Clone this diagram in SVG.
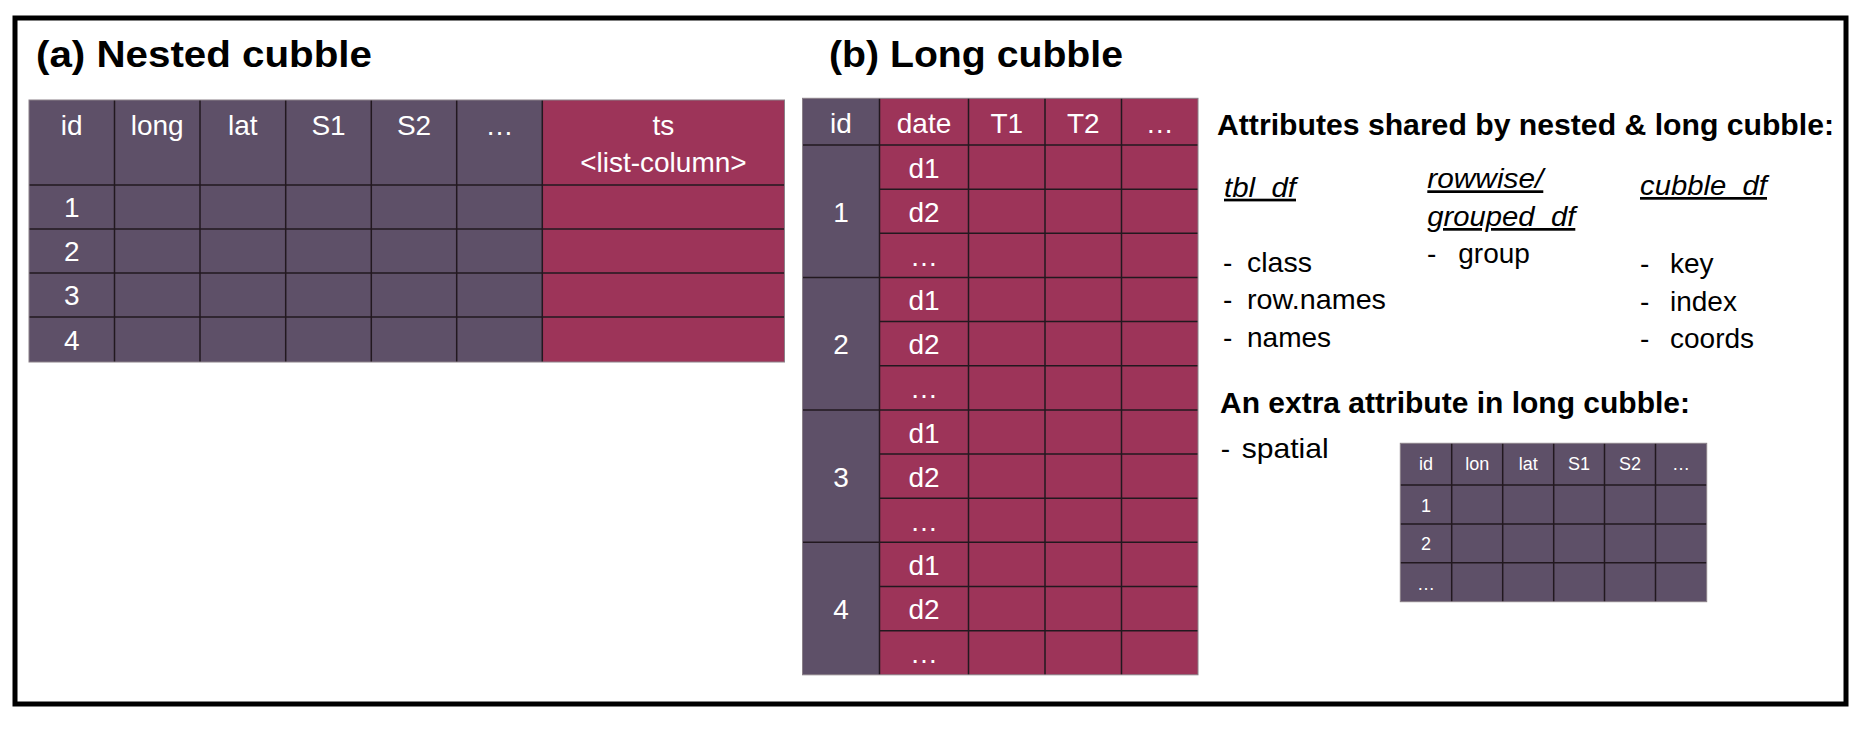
<svg xmlns="http://www.w3.org/2000/svg" width="1869" height="737" viewBox="0 0 1869 737">
<style>
.bg{fill:#ffffff}
.frame{fill:none;stroke:#000;stroke-width:5}
.pur{fill:#5E5068}
.cri{fill:#9D3459}
.grid{stroke:#22181f;stroke-width:1.5;fill:none}
.edge{stroke:#8a8088;stroke-width:1;fill:none}
text{font-family:"Liberation Sans",Arial,sans-serif}
.cell{fill:#fff;font-size:28px;text-anchor:middle}
.small{fill:#fff;font-size:18px;text-anchor:middle}
.title{fill:#000;font-size:37px;font-weight:bold}
.head{fill:#000;font-size:30px;font-weight:bold}
.item{fill:#000;font-size:28px}
.cls{fill:#000;font-size:27px;font-style:italic;text-decoration:underline}
</style>
<rect class="bg" x="0" y="0" width="1869" height="737"/>
<rect class="frame" x="15" y="18" width="1831" height="686"/>

<g id="title-a"><text class="title" x="36" y="67" textLength="336" lengthAdjust="spacingAndGlyphs">(a) Nested cubble</text></g>
<g id="title-b"><text class="title" x="829" y="67" textLength="294" lengthAdjust="spacingAndGlyphs">(b) Long cubble</text></g>

<g id="table-nested">
<rect class="pur" x="29" y="100" width="513.3" height="262"/>
<rect class="cri" x="542.3" y="100" width="242.2" height="262"/>
<path class="grid" d="M114.5 100V362M200 100V362M285.7 100V362M371.3 100V362M456.7 100V362M542.3 100V362M29 185H784.5M29 229H784.5M29 273H784.5M29 317H784.5"/>
<rect class="edge" x="29" y="100" width="755.5" height="262"/>
<text class="cell" x="71.7" y="135">id</text>
<text class="cell" x="157.2" y="135">long</text>
<text class="cell" x="242.8" y="135">lat</text>
<text class="cell" x="328.5" y="135">S1</text>
<text class="cell" x="414" y="135">S2</text>
<text class="cell" x="499.5" y="135">…</text>
<text class="cell" x="663.4" y="135">ts</text>
<text class="cell" x="663.4" y="171.7">&lt;list-column&gt;</text>
<text class="cell" x="71.7" y="217.3">1</text>
<text class="cell" x="71.7" y="261.3">2</text>
<text class="cell" x="71.7" y="305.3">3</text>
<text class="cell" x="71.7" y="349.7">4</text>
</g>

<g id="table-long">
<rect class="pur" x="802.5" y="98.3" width="77" height="576.5"/>
<rect class="cri" x="879.5" y="98.3" width="318.5" height="576.5"/>
<path class="grid" d="M879.5 98.3V674.8M968.5 98.3V674.8M1045 98.3V674.8M1121.5 98.3V674.8M802.5 145H1198M802.5 277.45H1198M802.5 409.9H1198M802.5 542.35H1198M879.5 189.15H1198M879.5 233.3H1198M879.5 321.6H1198M879.5 365.75H1198M879.5 454.05H1198M879.5 498.2H1198M879.5 586.5H1198M879.5 630.65H1198"/>
<rect class="edge" x="802.5" y="98.3" width="395.5" height="576.5"/>
<text class="cell" x="841" y="132.7">id</text>
<text class="cell" x="924" y="132.7">date</text>
<text class="cell" x="1006.75" y="132.7">T1</text>
<text class="cell" x="1083.25" y="132.7">T2</text>
<text class="cell" x="1159.75" y="132.7">…</text>
<text class="cell" x="841" y="221.7">1</text>
<text class="cell" x="841" y="354.2">2</text>
<text class="cell" x="841" y="486.6">3</text>
<text class="cell" x="841" y="619.1">4</text>
<text class="cell" x="924" y="177.6">d1</text>
<text class="cell" x="924" y="221.7">d2</text>
<text class="cell" x="924" y="265.9">…</text>
<text class="cell" x="924" y="310">d1</text>
<text class="cell" x="924" y="354.2">d2</text>
<text class="cell" x="924" y="398.3">…</text>
<text class="cell" x="924" y="442.5">d1</text>
<text class="cell" x="924" y="486.6">d2</text>
<text class="cell" x="924" y="530.8">…</text>
<text class="cell" x="924" y="574.9">d1</text>
<text class="cell" x="924" y="619.1">d2</text>
<text class="cell" x="924" y="663.2">…</text>
</g>

<g id="attributes">
<text class="head" x="1217" y="135" textLength="617" lengthAdjust="spacingAndGlyphs">Attributes shared by nested &amp; long cubble:</text>
<text class="cls" x="1224" y="196.7" textLength="72" lengthAdjust="spacingAndGlyphs">tbl_df</text>
<text class="cls" x="1427.3" y="188.3" textLength="116" lengthAdjust="spacingAndGlyphs">rowwise/</text>
<text class="cls" x="1427.3" y="226" textLength="148" lengthAdjust="spacingAndGlyphs">grouped_df</text>
<text class="cls" x="1640" y="195" textLength="127" lengthAdjust="spacingAndGlyphs">cubble_df</text>
<text class="item" x="1223" y="271.7">-</text>
<text class="item" x="1247" y="271.7" textLength="65" lengthAdjust="spacingAndGlyphs">class</text>
<text class="item" x="1223" y="308.5">-</text>
<text class="item" x="1247" y="308.5" textLength="139" lengthAdjust="spacingAndGlyphs">row.names</text>
<text class="item" x="1223" y="346.7">-</text>
<text class="item" x="1247" y="346.7">names</text>
<text class="item" x="1427" y="263.3">-</text>
<text class="item" x="1458.3" y="263.3">group</text>
<text class="item" x="1640" y="272.5">-</text>
<text class="item" x="1670" y="272.5">key</text>
<text class="item" x="1640" y="310.5">-</text>
<text class="item" x="1670" y="310.5">index</text>
<text class="item" x="1640" y="348">-</text>
<text class="item" x="1670" y="348">coords</text>
</g>

<g id="extra">
<text class="head" x="1220" y="413.3" textLength="470" lengthAdjust="spacingAndGlyphs">An extra attribute in long cubble:</text>
<text class="item" x="1220.7" y="458.3">-</text>
<text class="item" x="1241.7" y="458.3" textLength="87" lengthAdjust="spacingAndGlyphs">spatial</text>
</g>

<g id="table-spatial">
<rect class="pur" x="1400.3" y="443.3" width="306.4" height="158.4"/>
<path class="grid" d="M1451.7 443.3V601.7M1502.7 443.3V601.7M1553.7 443.3V601.7M1604.5 443.3V601.7M1655.5 443.3V601.7M1400.3 485H1706.7M1400.3 524H1706.7M1400.3 562.7H1706.7"/>
<rect class="edge" x="1400.3" y="443.3" width="306.4" height="158.4"/>
<text class="small" x="1426" y="470">id</text>
<text class="small" x="1477.2" y="470">lon</text>
<text class="small" x="1528.2" y="470">lat</text>
<text class="small" x="1579" y="470">S1</text>
<text class="small" x="1630" y="470">S2</text>
<text class="small" x="1681" y="470">…</text>
<text class="small" x="1426" y="511.5">1</text>
<text class="small" x="1426" y="550">2</text>
<text class="small" x="1426" y="589.5">…</text>
</g>

<g id="connectors"></g>
</svg>
